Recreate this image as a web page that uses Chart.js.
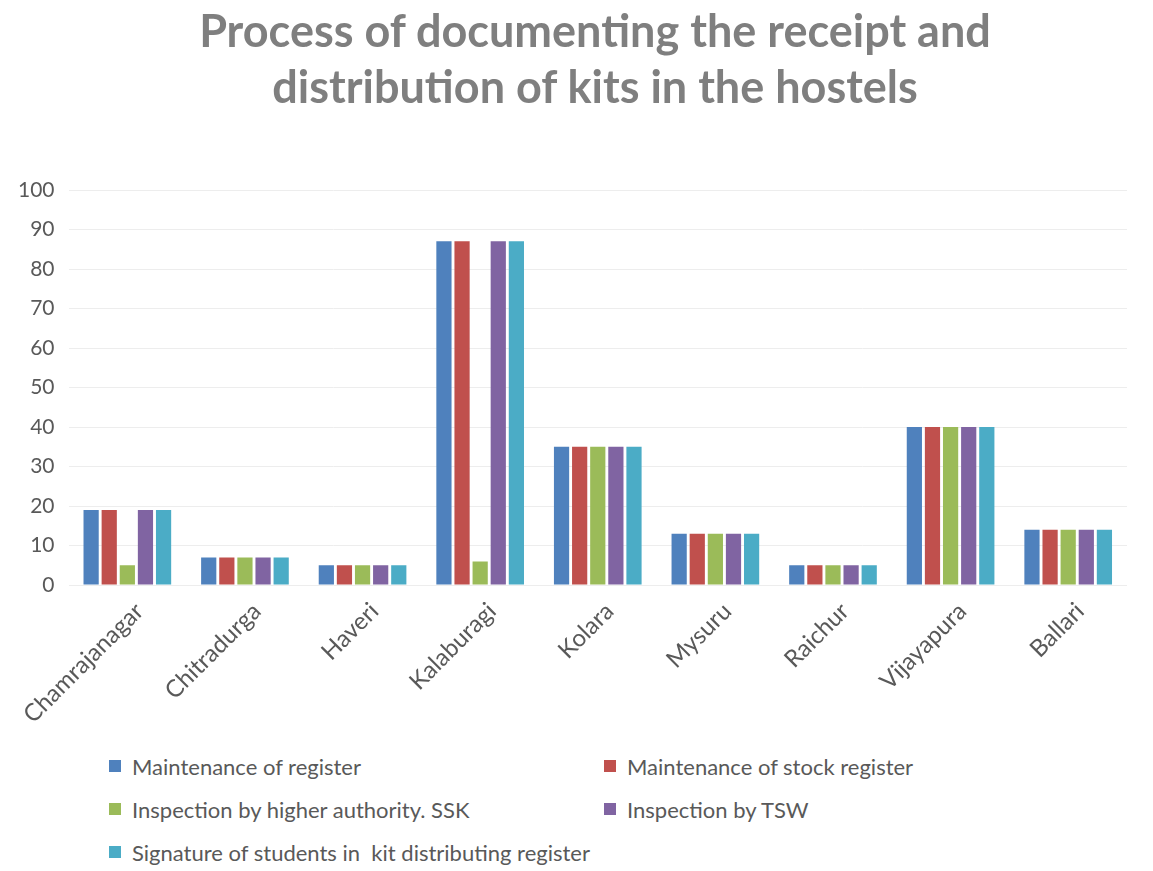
<!DOCTYPE html>
<html>
<head>
<meta charset="utf-8">
<script src="https://cdn.jsdelivr.net/npm/chart.js@4.4.0/dist/chart.umd.min.js"></script>
<style>
  html, body { margin: 0; padding: 0; background: #fff; }
  #wrap { position: relative; width: 1153px; height: 871px; }
  #title {
    position: absolute; left: 0; top: 2px; width: 1190px; text-align: center;
    font-family: 'Lato', sans-serif; font-weight: bold; font-size: 45px; line-height: 56px;
    color: #7F7F7F;
  }
  #box { position: absolute; left: 0; top: 0; width: 1153px; height: 733px; }
  #legend {
    position: absolute; left: 109px; top: 752px;
    display: grid; grid-template-columns: 495px auto; row-gap: 15px;
    font-family: 'Lato', sans-serif; font-size: 22px; color: #595959;
  }
  #legend div { display: flex; align-items: center; height: 28px; white-space: pre; }
  #legend span { display: inline-block; width: 12px; height: 12px; margin-right: 11px; }
</style>
</head>
<body>
<div id="wrap">
  <div id="box"><canvas id="kitChart"></canvas></div>
  <div id="title">Process of documenting the receipt and<br>distribution of kits in the hostels</div>
  <div id="legend"></div>
</div>
<script>
// ─── Data ─────────────────────────────────────────────────────────
const districts = ['Chamrajanagar', 'Chitradurga', 'Haveri', 'Kalaburagi', 'Kolara',
                   'Mysuru', 'Raichur', 'Vijayapura', 'Ballari'];

const seriesNames = [
  'Maintenance of register',
  'Maintenance of stock register',
  'Inspection by higher authority. SSK',
  'Inspection by TSW',
  'Signature of students in  kit distributing register',
];

const maintRegister   = [19, 7, 5, 87, 35, 13, 5, 40, 14];
const stockRegister   = [19, 7, 5, 87, 35, 13, 5, 40, 14];
const inspectionSSK   = [5, 7, 5, 6, 35, 13, 5, 40, 14];
const inspectionTSW   = [19, 7, 5, 87, 35, 13, 5, 40, 14];
const studentSign     = [19, 7, 5, 87, 35, 13, 5, 40, 14];

const yTicks = [0, 10, 20, 30, 40, 50, 60, 70, 80, 90, 100];

const COLORS = ['#4F81BD', '#C0504D', '#9BBB59', '#8064A2', '#4BACC6'];
const FONT   = "'Lato', sans-serif";

Chart.defaults.font.family = FONT;
Chart.defaults.color = '#595959';

const allSeries = [maintRegister, stockRegister, inspectionSSK, inspectionTSW, studentSign];

const chart = new Chart(document.getElementById('kitChart'), {
  type: 'bar',
  data: {
    labels: districts,
    datasets: allSeries.map((vals, i) => ({
      label: seriesNames[i],
      data: vals,
      backgroundColor: COLORS[i],
      borderWidth: 0,
      categoryPercentage: 0.77,
      barPercentage: 0.84,
    }))
  },
  options: {
    responsive: true,
    maintainAspectRatio: false,
    animation: false,
    layout: { padding: { left: 4, right: 26, top: 190, bottom: 0 } },
    plugins: {
      legend: { display: false },
      tooltip: { enabled: false },
    },
    scales: {
      y: {
        min: 0,
        max: 100,
        afterBuildTicks: axis => { axis.ticks = yTicks.map(v => ({ value: v })); },
        grid: { color: '#EDEDED', drawTicks: false },
        border: { display: false },
        ticks: { font: { size: 21 }, color: '#595959', padding: 14 },
      },
      x: {
        grid: { display: false },
        border: { display: false },
        ticks: { font: { size: 24 }, color: '#595959', minRotation: 45, maxRotation: 45,
                 padding: 4, labelOffset: 12 },
      }
    }
  }
});

// ─── Legend (two columns, like the source) ────────────────────────
const legendEl = document.getElementById('legend');
chart.data.datasets.forEach(ds => {
  const item = document.createElement('div');
  const sw = document.createElement('span');
  sw.style.background = ds.backgroundColor;
  item.appendChild(sw);
  item.appendChild(document.createTextNode(ds.label));
  legendEl.appendChild(item);
});
</script>
</body>
</html>
